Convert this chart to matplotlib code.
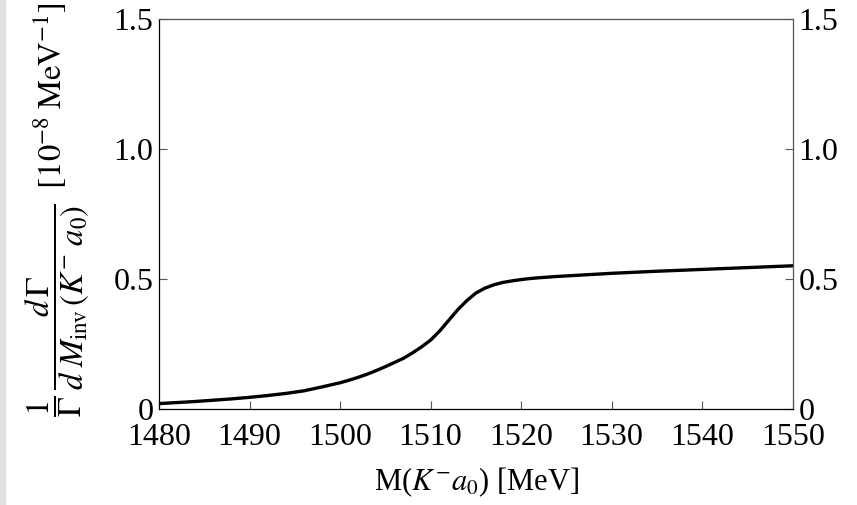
import numpy as np
import matplotlib
matplotlib.use('Agg')
import matplotlib.pyplot as plt

plt.rcParams['font.family'] = ['Liberation Serif', 'DejaVu Serif']
plt.rcParams['mathtext.fontset'] = 'stix'

# invariant mass [MeV] and normalized distribution [1e-8 MeV^-1]
mass = [1480, 1482, 1484, 1486, 1488, 1490, 1492, 1494, 1496, 1498, 1500,
        1501, 1502, 1503, 1504, 1505, 1506, 1507, 1508, 1509, 1510, 1511,
        1512, 1513, 1514, 1515, 1516, 1517, 1518, 1519, 1520, 1521, 1522,
        1524, 1526, 1528, 1530, 1535, 1540, 1545, 1550]
dgamma = [0.022, 0.026, 0.030, 0.035, 0.040, 0.046, 0.053, 0.061, 0.071,
          0.086, 0.102, 0.112, 0.123, 0.135, 0.149, 0.164, 0.180, 0.196,
          0.217, 0.240, 0.266, 0.301, 0.342, 0.383, 0.418, 0.447, 0.466,
          0.479, 0.488, 0.494, 0.499, 0.503, 0.506, 0.511, 0.515, 0.519,
          0.523, 0.531, 0.538, 0.545, 0.552]

xticks = [1480, 1490, 1500, 1510, 1520, 1530, 1540, 1550]
yticks = [0, 0.5, 1.0, 1.5]
ylabels = ['0', '0.5', '1.0', '1.5']

fig = plt.figure(figsize=(8.57, 5.05), dpi=100)
ax = fig.add_axes([159 / 857, 1 - 409.3 / 505, (792.7 - 159) / 857, 390 / 505])

ax.plot(mass, dgamma, color='black', lw=2.4, solid_joinstyle='round')
ax.set_xlim(1480, 1550)
ax.set_ylim(0, 1.5)

ax.set_xticks(xticks)
ax.set_yticks(yticks)
ax.set_yticklabels(ylabels)
ax.tick_params(direction='in', length=6, width=0.8, color='#555555',
               labelsize=23, top=False, right=True, labelright=True)
ax.tick_params(axis='x', pad=10)
ax.tick_params(axis='y', pad=4)
for s in ax.spines.values():
    s.set_color('#555555')
    s.set_linewidth(0.9)
ax.spines['bottom'].set_color('black')
ax.spines['left'].set_color('black')

fig.text(476 / 857, 1 - 482 / 505, r'M($K^{-}a_0$) [MeV]', fontsize=22,
         ha='center', va='center')
fig.text(57 / 857, 1 - 210 / 505,
         r'$\dfrac{1}{\Gamma}\,\dfrac{d\,\Gamma}{d\;M_{\rm inv}\,(K^{-}\;a_0)}\;\;[10^{-8}\;{\rm MeV}^{-1}]$',
         rotation=90, fontsize=23.5, ha='center', va='center')

# grey strip at the left edge of the original screenshot
fig.patches.append(plt.Rectangle((0, 0), 5 / 857, 1, transform=fig.transFigure,
                                 color='#e2e2e2', zorder=-1))

plt.savefig('out.png', dpi=100)
